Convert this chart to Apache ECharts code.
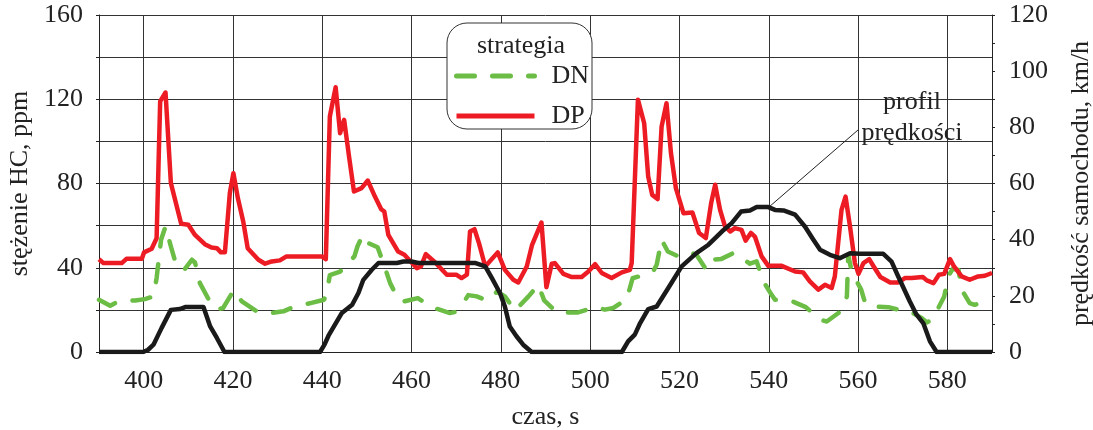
<!DOCTYPE html>
<html>
<head>
<meta charset="utf-8">
<script src="https://cdn.jsdelivr.net/npm/echarts@6/dist/echarts.min.js"></script>
<style>html,body{margin:0;padding:0;background:#fff}#c{width:1093px;height:430px}</style>
</head>
<body>
<div id="c"></div>
<script>
// ---- data ----
const dpTime = [390,391,395.1,396.2,399.6,400.1,401.8,402.9,403.7,404.9,406.1,408.4,410,411.5,413.7,415.2,416.4,417.3,418.2,419.3,420.1,421.1,422.3,423.3,425.7,427.2,428.7,430.5,432,439.9,440.8,441.7,443,444,444.9,446,447.1,448.8,450.2,451.8,453.2,453.9,454.8,457,458.4,461.2,462.1,463.2,465.3,467.9,470,471.2,472.4,473.1,474.1,475.1,476.5,479.3,480.9,482.8,483.9,485.8,487,489.1,490.2,491.4,492.1,494,495.9,498.1,499.6,501.1,502.6,504.8,507.1,508.9,509.3,510.7,512.1,513,513.9,515.1,516,517.1,518.1,519.2,520.9,522.9,524.4,525.9,527.1,528,529.1,530.2,531.4,532.4,533.9,534.8,536,536.9,538.4,539.9,542.9,545.9,547.7,549.2,551.1,552.6,554.1,554.8,556.3,557.2,558.2,559.3,560.1,561.2,562.5,563.5,565,567.2,569,570.5,572,574.5,575.4,576.9,578.1,579.3,580.6,581.5,583.2,585,586.9,588.4,590];
const dpValues = [44,42.2,42.2,44.3,44.3,47.3,49,54,119,123.2,80.2,60.9,60.4,55.6,51.2,49.6,49.3,47.3,47.3,75.4,84.9,73.1,62,49.3,43.8,41.9,43,43.5,45.4,45.4,44.1,111.8,125.7,103.9,110.2,92.8,76.2,77.8,81.4,73.8,67.8,66.7,55.6,47.7,46.2,39.8,40.6,46.5,42.5,36.7,36.7,35.1,36.7,57.2,58.3,51.7,40.6,47.3,39,34.3,33,40.6,50.9,61.5,30.8,41.9,42.2,37.1,35.6,35.6,38.2,41.7,37.5,35.1,37.8,39,42.2,119.8,108.6,83.3,74.6,72.6,107,118.1,94.4,77.8,65.9,66.2,56.5,54.1,70.7,79.4,67.5,59.6,57.2,58.8,58,52.9,56.5,54.8,45.4,40.9,40.9,38.2,37.8,33.5,29.6,31.9,30.4,35.9,67.5,73.8,59.6,42.2,37.1,42.2,44.1,40.6,35.6,33,33,35.1,35.1,35.6,34,32.7,36.7,37.1,44.1,40.6,35.9,34.3,35.9,36.2,37.5];

const dnTime = [390,392.5,394.3,398.1,400.3,402.2,402.9,403.9,404.9,406.1,407.4,409.1,410.8,411.5,412.6,414.6,416.4,417.8,420.2,422,425.7,428.3,431.3,433.5,437.6,440.4,441,441.7,444,445.5,447.2,447.9,449.1,450.3,452.4,453.7,455.2,457,458.2,461.4,464.5,468.6,469.8,471.2,472.7,474.6,476.3,477.9,479.1,480.9,483.2,486.2,488.4,489.7,492.5,497.3,501.1,503.3,505.2,508.2,509.5,511.9,514.1,514.9,516,517.4,520.1,522.7,523.8,525.9,526.8,529.3,532.1,535.8,537.3,538.8,540.3,541.4,544.8,548.3,551.5,553,555.6,556.7,557.5,557.8,558.6,560.7,561.6,562.7,566.8,569,571.3,574.3,575.4,576.5,577.6,579.3,580.2,581.2,582.5,583.2,585,586.1,589.5,590];
const dnValues = [24.8,22,24,24.5,25.1,26.4,35.1,53.3,59.6,50.1,40.6,39,43.8,42.5,32.7,24.8,20.1,20.9,29.4,24,18.8,18.5,19.3,21.3,23.3,24.8,28,36.5,38.2,41.4,45.4,50.2,55.6,51.7,49.7,42.2,32.7,25.1,24,25.6,21.3,18.5,19,22,27,26.4,25,25.1,28.7,26.4,19.7,26.4,31.9,24.5,18.8,18.8,21.3,20.1,20.9,25.1,35,36.5,38.2,41.4,53.3,47.7,45.1,47,46.2,39.4,43.8,44.1,47,41.9,43,33.5,28.3,24.8,24.5,21.3,15.3,14.5,18.5,21.3,26.4,46,38,29.6,23.2,21.6,21.3,20.1,19.7,16.1,14,15.3,19.3,26.4,35.9,39.5,39,29.6,23.2,22.4,24.8,25];

const speedTime = [390,399.9,401,402.2,404,406.1,408.1,409.3,413.4,414.9,416.4,418.1,439.5,440.5,441.4,444.4,446.7,448.1,449.2,451.1,452.6,456.7,458.2,460,461.5,474.2,476.5,478,479.8,480.9,482,483.5,485,486.9,507.1,508.5,510,511.2,513,514.9,517.5,520.5,523.8,526.5,529.5,531.7,533.8,535.8,537.3,539.9,541.4,543.3,545.9,548.1,550,551.5,553.7,555.9,558.2,560.4,565.6,567.5,569,571.6,573.1,574.6,576.1,577.6,590];
const speedValues = [0,0,0.8,2.6,8.5,15,15.3,16,16,9.1,5,0,0,2.6,5.8,13.9,16.8,21,25.7,29.3,31.7,31.7,32.2,32.2,31.7,31.7,30.5,26.3,21,16.2,9.1,5.6,2.6,0,0,3.8,6.2,10.3,15.3,16.2,22.8,30.5,35.2,38.2,42.9,45.9,50,50.4,51.6,51.6,50.6,50.4,48.9,44.7,40,36.4,34.6,33.4,35.2,35,35,32.2,26.9,18,13.3,10.3,3.8,0,0];

const seriesNames = ['DN', 'DP'];
const legendTitle = 'strategia';
const xName = 'czas, s';
const yLeftName = 'stężenie HC, ppm';
const yRightName = 'prędkość samochodu, km/h';
const annotation = ['profil', 'prędkości'];

// ---- chart ----
const zip = (a, b) => a.map((t, i) => [t, b[i]]);
const FONT = "'Liberation Serif', 'Times New Roman', serif";
const TXT = '#222';
const chart = echarts.init(document.getElementById('c'), null, {renderer: 'canvas'});
chart.setOption({
  animation: false,
  backgroundColor: '#fff',
  grid: {left: 99, right: 101, top: 15, bottom: 78, containLabel: false, outerBoundsMode: 'none'},
  xAxis: {
    type: 'value', min: 390, max: 590, splitNumber: 10,
    name: xName, nameLocation: 'middle', nameGap: 52,
    nameTextStyle: {fontFamily: FONT, fontSize: 26, color: TXT},
    axisLine: {show: true, onZero: false, lineStyle: {color: '#222', width: 1}},
    axisTick: {show: false},
    axisLabel: {fontFamily: FONT, fontSize: 26, color: TXT, margin: 16, showMinLabel: false, showMaxLabel: false},
    splitLine: {show: true, lineStyle: {color: '#333', width: 1}}
  },
  yAxis: [{
    type: 'value', min: 0, max: 160, interval: 20, position: 'left',
    name: yLeftName, nameLocation: 'middle', nameGap: 62,
    nameTextStyle: {fontFamily: FONT, fontSize: 26, color: TXT},
    axisLine: {show: true, lineStyle: {color: '#222', width: 1}},
    axisTick: {show: true, length: 3, lineStyle: {color: '#222'}},
    axisLabel: {fontFamily: FONT, fontSize: 26, color: TXT, margin: 16,
      formatter: v => (v % 40 === 0 ? String(v) : '')},
    splitLine: {show: true, lineStyle: {color: '#333', width: 1}}
  }, {
    type: 'value', min: 0, max: 120, interval: 10, position: 'right',
    name: yRightName, nameLocation: 'middle', nameGap: 76,
    nameTextStyle: {fontFamily: FONT, fontSize: 26, color: TXT},
    axisLine: {show: true, lineStyle: {color: '#222', width: 1}},
    axisTick: {show: true, length: 3, lineStyle: {color: '#222'}},
    axisLabel: {fontFamily: FONT, fontSize: 26, color: TXT, margin: 17,
      formatter: v => (v % 20 === 0 ? String(v) : '')},
    splitLine: {show: false}
  }],
  legend: {
    data: seriesNames, orient: 'vertical', left: 454, top: 63,
    itemWidth: 78, itemHeight: 14, itemGap: 14, padding: 0,
    lineStyle: {width: 5},
    itemStyle: {opacity: 0},
    textStyle: {fontFamily: FONT, fontSize: 26, color: TXT, padding: [0, 0, 0, 12]},
    selectedMode: false, z: 5
  },
  graphic: [
    {type: 'rect', z: 3, shape: {x: 447, y: 23, width: 145, height: 106, r: 20},
      style: {fill: '#fff', stroke: '#333', lineWidth: 1}},
    {type: 'text', z: 4, x: 521, y: 46, style: {text: legendTitle, font: "26px " + FONT, fill: TXT, align: 'center', verticalAlign: 'middle'}},
    {type: 'text', z: 4, x: 912, y: 102, style: {text: annotation[0], font: "26px " + FONT, fill: TXT, align: 'center', verticalAlign: 'middle'}},
    {type: 'text', z: 4, x: 912, y: 133, style: {text: annotation[1], font: "26px " + FONT, fill: TXT, align: 'center', verticalAlign: 'middle'}},
    {type: 'line', z: 4, shape: {x1: 858, y1: 130, x2: 769, y2: 207}, style: {stroke: '#222', lineWidth: 1}}
  ],
  series: [
    {name: seriesNames[0], type: 'line', yAxisIndex: 0, data: zip(dnTime, dnValues), symbol: 'none',
      lineStyle: {color: '#6bbd45', width: 4.5, type: [18, 18], cap: 'round', join: 'round'}, itemStyle: {color: '#6bbd45'}, z: 2},
    {name: seriesNames[1], type: 'line', yAxisIndex: 0, data: zip(dpTime, dpValues), symbol: 'none',
      lineStyle: {color: '#ed1c24', width: 4.5, join: 'round'}, itemStyle: {color: '#ed1c24'}, z: 3},
    {name: 'speed', type: 'line', yAxisIndex: 1, data: zip(speedTime, speedValues), symbol: 'none',
      lineStyle: {color: '#1a1a1a', width: 4.5, join: 'round'}, itemStyle: {color: '#1a1a1a'}, z: 4}
  ]
});
</script>
</body>
</html>
